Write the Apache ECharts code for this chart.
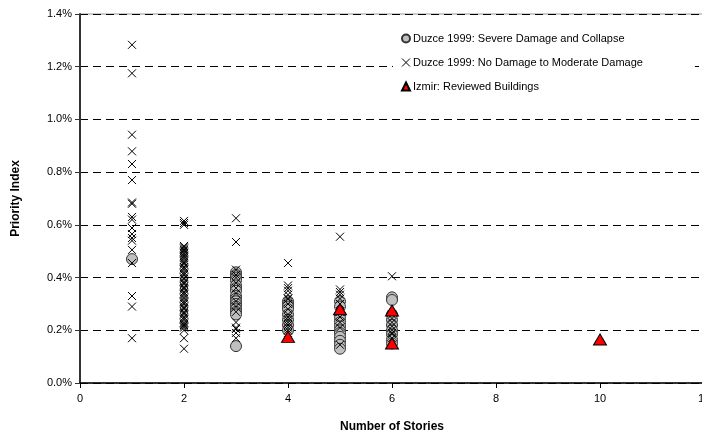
<!DOCTYPE html>
<html>
<head>
<meta charset="utf-8">
<script src="https://cdn.jsdelivr.net/npm/echarts@6/dist/echarts.min.js"></script>
<style>
  html, body { margin: 0; padding: 0; background: #fff; }
  #chart { width: 702px; height: 435px; }
</style>
</head>
<body>
<div id="chart"></div>
<script>
// priority index values in percent, grouped by number of stories
const severeStories = [1,
  3, 3, 3, 3, 3, 3, 3, 3, 3, 3, 3, 3, 3, 3, 3, 3,
  4, 4, 4, 4, 4, 4, 4, 4,
  5, 5, 5, 5, 5, 5, 5, 5, 5, 5, 5, 5,
  6, 6, 6, 6, 6, 6, 6, 6, 6]
const severeIndex = [0.47,
  0.42, 0.41, 0.40, 0.39, 0.37, 0.36, 0.35, 0.33, 0.32, 0.31, 0.30, 0.29, 0.28, 0.27, 0.26, 0.14,
  0.31, 0.30, 0.29, 0.28, 0.26, 0.24, 0.22, 0.20,
  0.31, 0.29, 0.26, 0.245, 0.23, 0.215, 0.20, 0.19, 0.175, 0.16, 0.145, 0.13,
  0.325, 0.315, 0.26, 0.24, 0.22, 0.20, 0.185, 0.165, 0.15]

const minorStories = [1, 1, 1, 1, 1, 1, 1, 1, 1, 1, 1, 1, 1, 1, 1, 1, 1, 1, 1,
  2, 2, 2, 2, 2, 2, 2, 2, 2, 2, 2, 2, 2, 2, 2, 2, 2, 2, 2, 2, 2, 2, 2, 2, 2, 2, 2, 2, 2, 2, 2, 2, 2, 2, 2,
  2, 2, 2, 2, 2, 2, 2, 2, 2, 2, 2, 2, 2, 2, 2, 2, 2, 2, 2, 2,
  3, 3, 3, 3, 3, 3, 3, 3, 3, 3, 3, 3, 3, 3, 3, 3,
  4, 4, 4, 4, 4, 4, 4, 4, 4, 4, 4, 4, 4, 4, 4, 4, 4,
  5, 5, 5, 5, 5, 5, 5, 5, 5, 5, 5,
  6, 6, 6, 6, 6, 6, 6, 6, 6]
const minorIndex = [1.283, 1.175, 0.942, 0.879, 0.831, 0.77, 0.685, 0.68, 0.63, 0.62, 0.588, 0.565, 0.55, 0.54, 0.505, 0.455, 0.33, 0.29, 0.17,
  0.615, 0.607, 0.60, 0.52, 0.51, 0.50, 0.49, 0.475, 0.46, 0.45, 0.44, 0.43, 0.42, 0.41, 0.40, 0.385, 0.375, 0.365, 0.355, 0.345, 0.335, 0.32, 0.31, 0.30, 0.29, 0.28, 0.27, 0.26, 0.25, 0.24, 0.23, 0.22, 0.21, 0.20, 0.17, 0.13,
  0.515, 0.505, 0.495, 0.482, 0.468, 0.455, 0.435, 0.415, 0.395, 0.38, 0.36, 0.34, 0.325, 0.305, 0.285, 0.265, 0.245, 0.225, 0.215, 0.205,
  0.625, 0.535, 0.43, 0.41, 0.38, 0.34, 0.31, 0.29, 0.27, 0.23, 0.21, 0.19, 0.17, 0.40, 0.36, 0.32,
  0.455, 0.37, 0.36, 0.35, 0.335, 0.32, 0.30, 0.28, 0.26, 0.25, 0.24, 0.23, 0.22, 0.21, 0.20, 0.19, 0.145,
  0.555, 0.355, 0.345, 0.335, 0.32, 0.30, 0.27, 0.25, 0.23, 0.21, 0.19,
  0.405, 0.26, 0.245, 0.23, 0.215, 0.20, 0.185, 0.17, 0.16]

const izmirStories = [4, 5, 6, 6, 10]
const izmirIndex = [0.175, 0.28, 0.275, 0.15, 0.165]

const xTicks = { min: 0, max: 12, interval: 2 }
const yTicks = { min: 0, max: 1.4, interval: 0.2 }

const pairs = (xs, ys) => xs.map((x, i) => [x, ys[i]])
const crossPath = 'path://M0,0L10,10M10,0L0,10'
const font = '"Liberation Sans", Arial, sans-serif'

const chart = echarts.init(document.getElementById('chart'))

chart.setOption({
  animation: false,
  textStyle: { fontFamily: font },
  grid: {
    left: 80, top: 14, width: 624, height: 369,
    outerBoundsMode: 'none',
    containLabel: false,
    show: true, borderColor: '#999', borderWidth: 1, backgroundColor: 'transparent'
  },
  legend: {
    orient: 'vertical',
    left: 393,
    top: 25,
    padding: [8, 52, 8, 8],
    itemGap: 13,
    itemWidth: 8,
    itemHeight: 8,
    backgroundColor: '#fff',
    textStyle: { fontFamily: font, fontSize: 11, color: '#000', padding: [0, 0, 0, -2] },
    data: [
      { name: 'Duzce 1999: Severe Damage and Collapse' },
      { name: 'Duzce 1999: No Damage to Moderate Damage', itemStyle: { borderWidth: 1 } },
      { name: 'Izmir: Reviewed Buildings' }
    ]
  },
  xAxis: {
    type: 'value',
    min: xTicks.min, max: xTicks.max, interval: xTicks.interval,
    name: 'Number of Stories',
    nameLocation: 'middle',
    nameGap: 38,
    nameTextStyle: { fontFamily: font, fontSize: 12, fontWeight: 'bold', color: '#000' },
    axisLine: { onZero: false, lineStyle: { color: '#000', width: 1.5 } },
    axisTick: { show: true, length: 5, lineStyle: { color: '#000' } },
    axisLabel: { fontSize: 11, color: '#000', margin: 10, showMaxLabel: true },
    splitLine: { show: false }
  },
  yAxis: {
    type: 'value',
    min: yTicks.min, max: yTicks.max, interval: yTicks.interval,
    name: 'Priority Index',
    nameLocation: 'middle',
    nameGap: 58,
    nameTextStyle: { fontFamily: font, fontSize: 12, fontWeight: 'bold', color: '#000' },
    axisLine: { show: true, lineStyle: { color: '#333', width: 2 } },
    axisTick: { show: true, length: 5, lineStyle: { color: '#333' } },
    axisLabel: {
      fontSize: 11, color: '#000', margin: 8,
      formatter: v => v.toFixed(1) + '%'
    },
    splitLine: { show: true, lineStyle: { color: '#000', width: 1, type: [8, 5] } }
  },
  series: [
    {
      name: 'Duzce 1999: Severe Damage and Collapse',
      type: 'scatter',
      symbol: 'circle',
      symbolSize: 11,
      itemStyle: { color: '#c0c0c0', borderColor: '#333', borderWidth: 1, opacity: 1 },
      data: pairs(severeStories, severeIndex)
    },
    {
      name: 'Duzce 1999: No Damage to Moderate Damage',
      type: 'scatter',
      symbol: crossPath,
      symbolSize: 8,
      itemStyle: { color: 'transparent', borderColor: '#000', borderWidth: 1, opacity: 1 },
      data: pairs(minorStories, minorIndex)
    },
    {
      name: 'Izmir: Reviewed Buildings',
      type: 'scatter',
      symbol: 'triangle',
      symbolSize: [13, 11],
      itemStyle: { color: '#ff0000', borderColor: '#000', borderWidth: 1, opacity: 1 },
      data: pairs(izmirStories, izmirIndex)
    }
  ]
})
</script>
</body>
</html>
